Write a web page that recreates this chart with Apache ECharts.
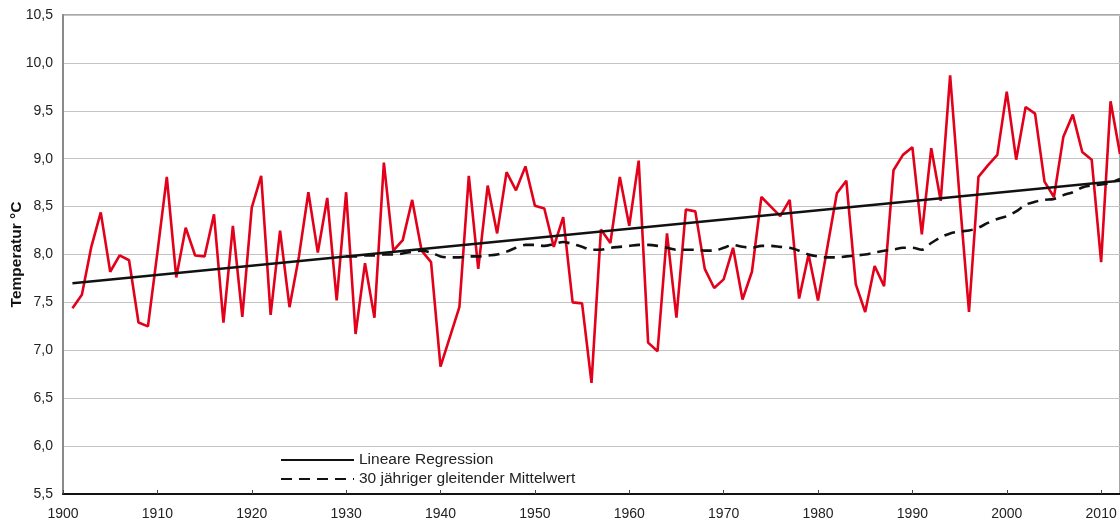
<!DOCTYPE html>
<html>
<head>
<meta charset="utf-8">
<script src="https://cdn.jsdelivr.net/npm/echarts@6/dist/echarts.min.js"></script>
<style>
  html, body { margin: 0; padding: 0; background: #fff; }
  #chart { width: 1120px; height: 525px; }
</style>
</head>
<body>
<div id="chart"></div>
<script>
// Annual mean temperature, 1901–2012
const years = [];
for (let y = 1901; y <= 2012; y++) years.push(y);

const annualTemp = [
  7.44, 7.58, 8.08, 8.44, 7.82, 7.99, 7.94, 7.29, 7.25, 8.02,   // 1901–1910
  8.81, 7.76, 8.28, 7.99, 7.98, 8.42, 7.29, 8.30, 7.35, 8.49,   // 1911–1920
  8.82, 7.37, 8.25, 7.45, 7.98, 8.65, 8.02, 8.59, 7.52, 8.65,   // 1921–1930
  7.17, 7.91, 7.34, 8.96, 8.04, 8.15, 8.57, 8.04, 7.92, 6.83,   // 1931–1940
  7.14, 7.45, 8.82, 7.85, 8.72, 8.22, 8.86, 8.67, 8.92, 8.51,   // 1941–1950
  8.48, 8.08, 8.39, 7.50, 7.49, 6.66, 8.26, 8.12, 8.81, 8.30,   // 1951–1960
  8.98, 7.08, 6.99, 8.22, 7.34, 8.47, 8.45, 7.85, 7.65, 7.74,   // 1961–1970
  8.07, 7.53, 7.82, 8.60, 8.50, 8.40, 8.57, 7.54, 8.00, 7.52,   // 1971–1980
  8.08, 8.64, 8.77, 7.69, 7.40, 7.88, 7.67, 8.88, 9.04, 9.12,   // 1981–1990
  8.21, 9.11, 8.56, 9.87, 8.60, 7.40, 8.81, 8.93, 9.04, 9.70,   // 1991–2000
  8.99, 9.54, 9.47, 8.76, 8.60, 9.23, 9.46, 9.07, 8.99, 7.92,   // 2001–2010
  9.60, 9.05                                                    // 2011–2012
];

// 30-year moving average, 1930–2012
const movingYears = [];
for (let y = 1930; y <= 2012; y++) movingYears.push(y);
const movingAvg = [
  7.98, 7.98, 7.99, 7.99, 8.00, 8.00, 8.01, 8.03, 8.04, 8.02,   // 1930–1939
  7.98, 7.97, 7.97, 7.98, 7.98, 7.99, 8.00, 8.03, 8.07, 8.10,   // 1940–1949
  8.10, 8.09, 8.11, 8.13, 8.11, 8.08, 8.05, 8.05, 8.07, 8.08,   // 1950–1959
  8.09, 8.10, 8.10, 8.09, 8.07, 8.05, 8.05, 8.05, 8.04, 8.04,   // 1960–1969
  8.07, 8.10, 8.08, 8.07, 8.09, 8.09, 8.08, 8.07, 8.04, 8.00,   // 1970–1979
  7.98, 7.97, 7.97, 7.98, 7.99, 8.00, 8.02, 8.04, 8.05, 8.07,   // 1980–1989
  8.07, 8.05, 8.12, 8.18, 8.22, 8.24, 8.25, 8.28, 8.33, 8.37,   // 1990–1999
  8.40, 8.45, 8.52, 8.55, 8.57, 8.58, 8.62, 8.65, 8.70, 8.72,   // 2000–2009
  8.73, 8.75, 8.79                                              // 2010–2012
];

// Linear regression line endpoints
const regressionYears = [1901, 2012];
const regressionVals = [7.70, 8.77];

const xTicks = [1900, 1910, 1920, 1930, 1940, 1950, 1960, 1970, 1980, 1990, 2000, 2010];
const yTicks = [5.5, 6.0, 6.5, 7.0, 7.5, 8.0, 8.5, 9.0, 9.5, 10.0, 10.5];

const seriesNames = ['Messwerte', 'Lineare Regression', '30 jähriger gleitender Mittelwert'];
const yAxisTitle = 'Temperatur °C';

const zip = (xs, vs) => xs.map((x, i) => [x, vs[i]]);
const font = 'Liberation Sans, Arial, Helvetica, sans-serif';

const chart = echarts.init(document.getElementById('chart'), null, { renderer: 'canvas' });
chart.setOption({
  animation: false,
  backgroundColor: '#ffffff',
  grid: {
    left: 63, right: 0, top: 15, bottom: 31,
    outerBoundsMode: 'none', containLabel: false,
    show: true, borderColor: '#8a8a8a', borderWidth: 1.5, backgroundColor: 'transparent'
  },
  legend: {
    orient: 'vertical',
    left: 280, top: 452, padding: 0,
    itemWidth: 73, itemHeight: 14, itemGap: 3,
    itemStyle: { opacity: 0 },
    data: [seriesNames[1], seriesNames[2]],
    textStyle: { fontFamily: font, fontSize: 15.5, lineHeight: 14, color: '#222' }
  },
  xAxis: {
    type: 'value', min: 1900, max: 2012, interval: 10,
    axisLine: { show: true, lineStyle: { color: '#111', width: 2 } },
    axisTick: { show: true, inside: true, length: 4, customValues: xTicks, lineStyle: { color: '#444' } },
    axisLabel: {
      customValues: xTicks, margin: 13,
      fontFamily: font, fontSize: 14, color: '#222',
      formatter: v => String(v)
    },
    splitLine: { show: false }
  },
  yAxis: {
    type: 'value', min: 5.5, max: 10.5, interval: 0.5,
    name: yAxisTitle, nameLocation: 'middle', nameGap: 38, nameMoveOverlap: false,
    nameTextStyle: { fontFamily: font, fontSize: 15.5, fontWeight: 'bold', color: '#111' },
    axisLine: { show: true, lineStyle: { color: '#8a8a8a', width: 2 } },
    axisTick: { show: false },
    axisLabel: {
      customValues: yTicks, margin: 10,
      fontFamily: font, fontSize: 14, color: '#222',
      formatter: v => v.toFixed(1).replace('.', ',')
    },
    splitLine: { show: true, lineStyle: { color: '#c4c4c4', width: 1.2 } }
  },
  series: [
    {
      name: seriesNames[0], type: 'line', data: zip(years, annualTemp),
      symbol: 'none', lineStyle: { color: '#e2001a', width: 2.6 }, z: 3
    },
    {
      name: seriesNames[1], type: 'line', data: zip(regressionYears, regressionVals),
      symbol: 'none', color: '#111', lineStyle: { color: '#111', width: 2.6 }, z: 4
    },
    {
      name: seriesNames[2], type: 'line', data: zip(movingYears, movingAvg),
      symbol: 'none', smooth: 0.3, color: '#111',
      lineStyle: { color: '#111', width: 2.6, type: [11, 7] }, z: 4
    }
  ]
});
</script>
</body>
</html>
